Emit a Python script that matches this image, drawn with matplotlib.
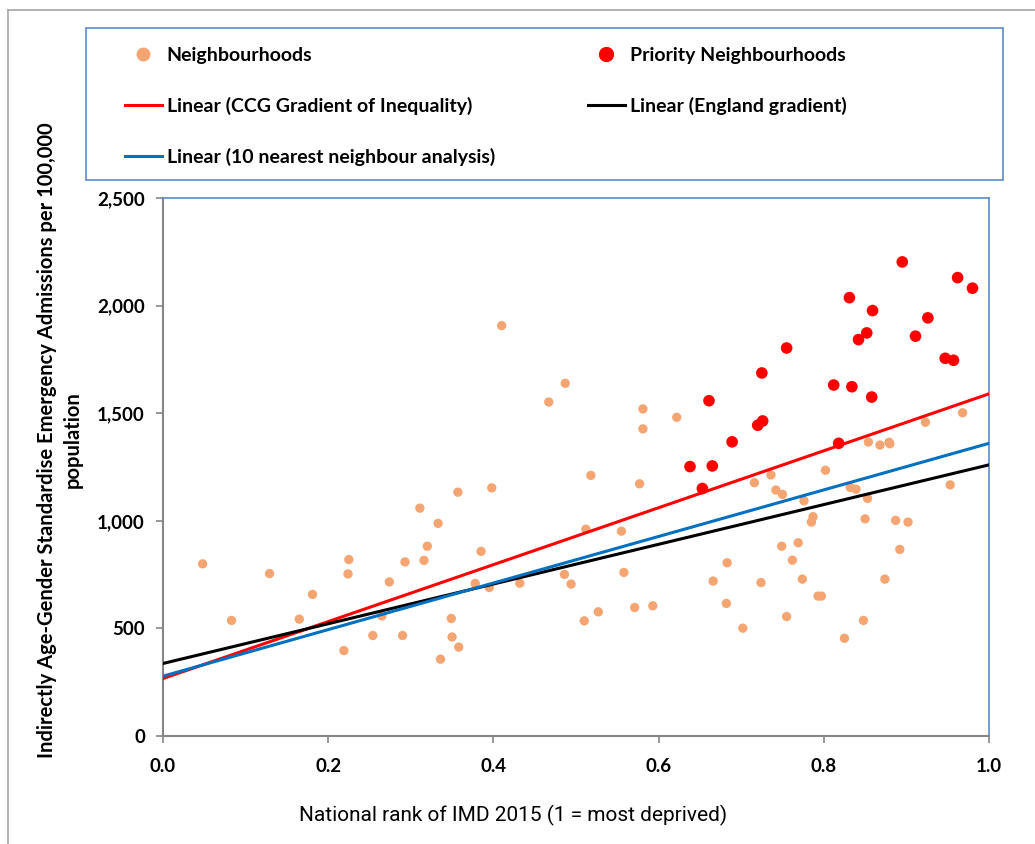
import matplotlib
matplotlib.use('Agg')
import matplotlib.pyplot as plt
from matplotlib.lines import Line2D
from matplotlib.patches import Rectangle

# neighbourhoods (national rank of IMD 2015, admissions per 100,000)
nb_x = [0.048, 0.083, 0.129, 0.165, 0.181, 0.219, 0.224, 0.225, 0.254, 0.265,
        0.274, 0.290, 0.293, 0.311, 0.316, 0.320, 0.333, 0.336, 0.349, 0.350,
        0.358, 0.357, 0.378, 0.385, 0.395, 0.398, 0.410, 0.432, 0.467, 0.486,
        0.487, 0.494, 0.510, 0.512, 0.518, 0.527, 0.555, 0.558, 0.571, 0.577,
        0.581, 0.581, 0.593, 0.622, 0.666, 0.682, 0.683, 0.702, 0.716, 0.724,
        0.736, 0.742, 0.749, 0.750, 0.755, 0.762, 0.769, 0.774, 0.776, 0.785,
        0.787, 0.793, 0.797, 0.802, 0.825, 0.832, 0.839, 0.848, 0.850, 0.853,
        0.854, 0.868, 0.874, 0.879, 0.880, 0.887, 0.892, 0.902, 0.923, 0.953,
        0.968]
nb_y = [800, 537, 755, 543, 658, 397, 753, 820, 467, 558,
        716, 467, 809, 1059, 816, 882, 988, 357, 546, 460,
        413, 1133, 709, 858, 690, 1153, 1907, 710, 1552, 751,
        1639, 706, 535, 961, 1211, 577, 952, 760, 597, 1172,
        1520, 1427, 605, 1481, 720, 616, 805, 501, 1177, 713,
        1213, 1143, 882, 1123, 555, 817, 898, 729, 1093, 994,
        1019, 650, 650, 1235, 454, 1155, 1147, 537, 1009, 1104,
        1366, 1352, 729, 1365, 1358, 1002, 867, 994, 1458, 1167,
        1502]

# priority neighbourhoods
pr_x = [0.638, 0.653, 0.661, 0.665, 0.689, 0.720, 0.726, 0.725, 0.755, 0.812,
        0.818, 0.831, 0.834, 0.842, 0.852, 0.858, 0.859, 0.895, 0.911, 0.926,
        0.947, 0.957, 0.962, 0.980]
pr_y = [1252, 1150, 1558, 1255, 1367, 1444, 1464, 1687, 1803, 1631,
        1360, 2037, 1623, 1842, 1873, 1575, 1977, 2203, 1858, 1943,
        1755, 1746, 2130, 2081]

# linear trend lines: (intercept, slope)
ccg_line = (267, 1323)
england_line = (337, 923)
nn10_line = (278, 1082)

x_ticks = [0, 0.2, 0.4, 0.6, 0.8, 1.0]
y_ticks = [0, 500, 1000, 1500, 2000, 2500]

plt.rcParams['font.family'] = ['Lato', 'DejaVu Sans']
plt.rcParams['font.weight'] = 'bold'

W, H = 1035, 844
fig = plt.figure(figsize=(W / 100, H / 100), dpi=100)
ax = fig.add_axes([163 / W, 1 - 736 / H, 826 / W, 538 / H])

ax.scatter(nb_x, nb_y, s=45, color='#F5A572', edgecolors='none', zorder=2)
lx = [0, 1]
l1, = ax.plot(lx, [ccg_line[0] + ccg_line[1] * v for v in lx], color='#FF0000', lw=2.2, zorder=3)
l2, = ax.plot(lx, [england_line[0] + england_line[1] * v for v in lx], color='black', lw=2.2, zorder=3)
l3, = ax.plot(lx, [nn10_line[0] + nn10_line[1] * v for v in lx], color='#0070C0', lw=2.2, zorder=3)
ax.scatter(pr_x, pr_y, s=70, color='#FF0000', edgecolors='none', zorder=4)

ax.set_xlim(0, 1)
ax.set_ylim(0, 2500)
ax.set_xticks(x_ticks, labels=['%.1f' % v for v in x_ticks], fontweight='bold', fontsize=13.5)
ax.set_yticks(y_ticks, labels=['{:,}'.format(v) for v in y_ticks], fontweight='bold', fontsize=13.5)
ax.tick_params(direction='out', length=5, width=1.2, color='#868686')
ax.tick_params(axis='y', pad=8)
ax.tick_params(axis='x', pad=11)

for s in ['left', 'bottom']:
    ax.spines[s].set_color('#868686')
    ax.spines[s].set_linewidth(1.5)
for s in ['top', 'right']:
    ax.spines[s].set_color('#5B8BC9')
    ax.spines[s].set_linewidth(1.2)

fig.text(60 / W, 1 - 440 / H,
         'Indirectly Age-Gender Standardise Emergency Admissions per 100,000\npopulation',
         rotation=90, ha='center', va='center', fontsize=14.5, fontweight='bold',
         linespacing=1.35)
fig.text(513 / W, 1 - 815 / H, 'National rank of IMD 2015 (1 = most deprived)',
         ha='center', va='center', fontsize=15, fontweight='normal',
         family=['Roboto', 'DejaVu Sans'])

# legend box and two legend columns
fig.add_artist(Rectangle((86 / W, 1 - 180 / H), 917 / W, 152 / H, transform=fig.transFigure,
                         facecolor='white', edgecolor='#5B8BC9', lw=1.2))
h_nb = Line2D([], [], marker='o', ls='none', color='#F5A572', markersize=9)
h_pr = Line2D([], [], marker='o', ls='none', color='#FF0000', markersize=10)
leg_kw = dict(loc='upper left', frameon=False, prop={'weight': 'bold', 'size': 14},
              labelspacing=1.7, handlelength=1.9, handletextpad=0.25,
              borderpad=0, borderaxespad=0)
leg1 = fig.legend([h_nb, l1, l3],
                  ['Neighbourhoods', 'Linear (CCG Gradient of Inequality)',
                   'Linear (10 nearest neighbour analysis)'],
                  bbox_to_anchor=(125 / W, 1 - 47 / H), **leg_kw)
leg2 = fig.legend([h_pr, l2],
                  ['Priority Neighbourhoods', 'Linear (England gradient)'],
                  bbox_to_anchor=(588 / W, 1 - 47 / H), **leg_kw)
leg1.set_zorder(5)
leg2.set_zorder(5)

# outer frame
fig.add_artist(Line2D([8 / W, 8 / W], [0, 1 - 10 / H], color='#A6A6A6', lw=1.2))
fig.add_artist(Line2D([8 / W, 1], [1 - 10 / H, 1 - 10 / H], color='#A6A6A6', lw=1.2))

fig.savefig('out.png', dpi=100)
